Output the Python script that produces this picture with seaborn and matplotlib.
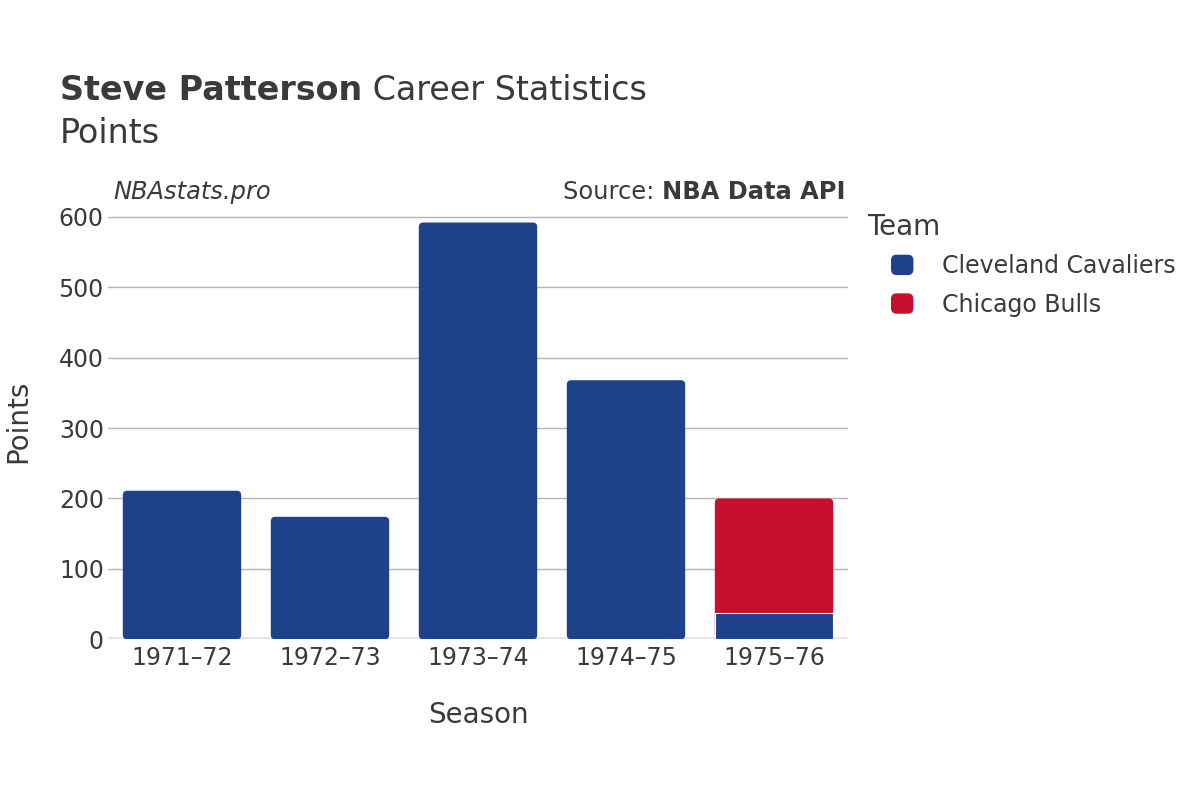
import matplotlib
matplotlib.use("Agg")
import pandas as pd
import matplotlib.pyplot as plt
import seaborn as sns
from matplotlib.patches import FancyBboxPatch, Patch
from matplotlib.legend_handler import HandlerPatch

# -------------------------------
# data
# -------------------------------
seasons = ["1971–72", "1972–73", "1973–74", "1974–75", "1975–76"]
cavs_points = [211, 174, 592, 368, 37]
bulls_points = [0, 0, 0, 0, 163]
teams = ["Cleveland Cavaliers", "Chicago Bulls"]
team_colors = {"Cleveland Cavaliers": "#1D428A", "Chicago Bulls": "#C8102E"}

df = pd.DataFrame({"season": seasons, "cavs": cavs_points, "bulls": bulls_points})
df["total"] = df["cavs"] + df["bulls"]
df["top_team"] = ["Chicago Bulls" if b > 0 else "Cleveland Cavaliers" for b in df["bulls"]]

TXT = "#3a3a3a"
sns.set_theme(style="white")
plt.rcParams["font.family"] = ["DejaVu Sans"]

fig = plt.figure(figsize=(12, 8), dpi=100)
ax_l, ax_b, ax_w, ax_h = 108 / 1200, 1 - 639.3 / 800, 740 / 1200, (639.3 - 202.8) / 800
ax = fig.add_axes([ax_l, ax_b, ax_w, ax_h])
ymax = 620
ax.set_xlim(-0.5, 4.5)
ax.set_ylim(0, ymax)

# -------------------------------
# stacked bars: totals coloured by top team, then lower segment on top
# -------------------------------
sns.barplot(data=df, x="season", y="total", hue="top_team", palette=team_colors,
            order=seasons, hue_order=teams, dodge=False, width=0.8,
            saturation=1, legend=False, ax=ax, zorder=3)

# round the top corners
px_x = ax_w * 1200 / 5
px_y = ax_h * 800 / ymax
aspect = px_x / px_y
for p in list(ax.patches):
    x, y = p.get_x(), p.get_y()
    w, h = p.get_width(), p.get_height()
    fc = p.get_facecolor()
    p.remove()
    ax.add_patch(FancyBboxPatch((x, y), w, h,
                                boxstyle="round,pad=0,rounding_size=0.03",
                                mutation_aspect=aspect, fc=fc, ec="none", zorder=3))

lower = df[df["bulls"] > 0]
sns.barplot(data=lower, x="season", y="cavs", order=seasons, color=team_colors["Cleveland Cavaliers"],
            width=0.8, saturation=1, ax=ax, edgecolor="white", linewidth=0.8, zorder=4)

ax.set_xlim(-0.5, 4.5)
ax.set_ylim(0, ymax)

# -------------------------------
# axes styling
# -------------------------------
ax.set_yticks([0, 100, 200, 300, 400, 500, 600])
ax.yaxis.grid(True, color="#b5b5b5", lw=1)
ax.set_axisbelow(True)
ax.axhline(0, color="#e5e5e5", lw=3, zorder=2)
for s in ax.spines.values():
    s.set_visible(False)
ax.tick_params(axis="both", length=0, labelsize=17, labelcolor=TXT)
ax.tick_params(axis="y", pad=3)
ax.tick_params(axis="x", pad=5)
ax.set_xlabel("Season", fontsize=20, color=TXT, labelpad=22)
ax.set_ylabel("Points", fontsize=20, color=TXT, labelpad=19)

# -------------------------------
# titles and annotations
# -------------------------------
t1 = fig.text(60 / 1200, 1 - 100 / 800, "Steve Patterson", fontsize=24, fontweight="bold",
              color=TXT, va="baseline")
fig.canvas.draw()
bb = t1.get_window_extent()
fig.text(bb.x1 / 1200, 1 - 100 / 800, " Career Statistics", fontsize=24, color=TXT, va="baseline")
fig.text(60 / 1200, 1 - 143 / 800, "Points", fontsize=24, color=TXT, va="baseline")
fig.text(113 / 1200, 1 - 199 / 800, "NBAstats.pro", fontsize=17.4, style="italic", color=TXT, va="baseline")
t2 = fig.text(845 / 1200, 1 - 199 / 800, "NBA Data API", fontsize=17.4, fontweight="bold",
              color=TXT, va="baseline", ha="right")
fig.canvas.draw()
bb2 = t2.get_window_extent()
fig.text(bb2.x0 / 1200, 1 - 199 / 800, "Source: ", fontsize=17.4, color=TXT, va="baseline", ha="right")

# -------------------------------
# legend
# -------------------------------
def rounded_square(legend, orig_handle, xdescent, ydescent, width, height, fontsize):
    return FancyBboxPatch((-xdescent, -ydescent), width, height,
                          boxstyle="round,pad=0,rounding_size=4")

fig.text(867 / 1200, 1 - 235 / 800, "Team", fontsize=20, color=TXT, va="baseline")
handles = [Patch(facecolor=team_colors[t], edgecolor="none") for t in teams]
leg = fig.legend(handles, teams, loc="upper left",
                 bbox_to_anchor=(891 / 1200, 1 - 254 / 800), frameon=False,
                 fontsize=17, handlelength=0.95, handleheight=0.95,
                 handletextpad=1.2, labelspacing=0.62, borderaxespad=0, borderpad=0,
                 handler_map={Patch: HandlerPatch(patch_func=rounded_square)})
for t in leg.get_texts():
    t.set_color(TXT)

plt.savefig("out.png", dpi=100)
